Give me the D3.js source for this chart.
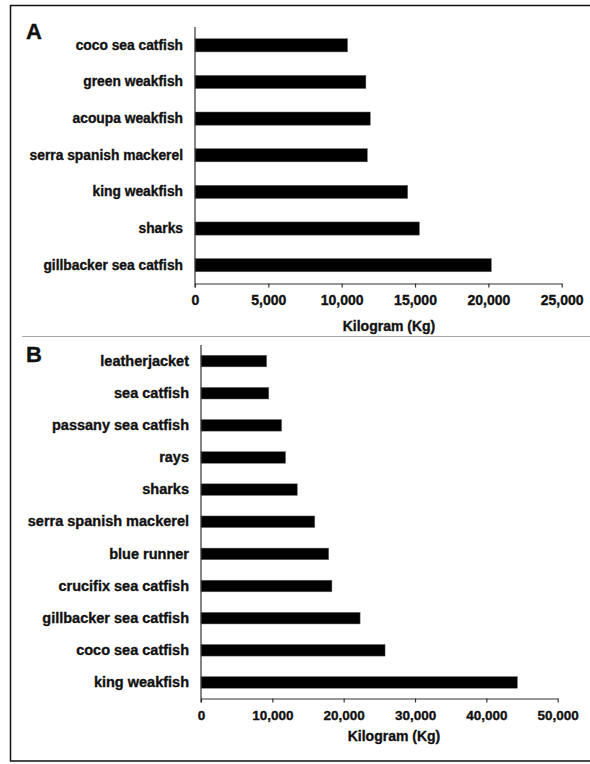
<!DOCTYPE html>
<html lang="en">
<head>
  <meta charset="UTF-8" />
  <title>Catch by species (Kg)</title>
  <script src="https://d3js.org/d3.v7.min.js"></script>
  <style>
    body { margin: 0; background: #fff; }
    svg { display: block; font-family: "Liberation Sans", Arial, sans-serif; font-weight: bold; }
    svg text { stroke: #111; stroke-width: 0.35; }
    .axis path, .axis line { fill: none; stroke: #333; stroke-width: 1.2; }
    .axis text { fill: #111; font-family: "Liberation Sans", Arial, sans-serif; font-weight: bold; }
  </style>
</head>
<body>
  <svg id="chart" width="590" height="764"></svg>

  <script>
  // panel A
  const speciesA = [
    "coco sea catfish",
    "green weakfish",
    "acoupa weakfish",
    "serra spanish mackerel",
    "king weakfish",
    "sharks",
    "gillbacker sea catfish"
  ];
  const kgA = [10400, 11650, 11950, 11750, 14500, 15300, 20200];
  const ticksA = [0, 5000, 10000, 15000, 20000, 25000];

  // panel B
  const speciesB = [
    "leatherjacket",
    "sea catfish",
    "passany sea catfish",
    "rays",
    "sharks",
    "serra spanish mackerel",
    "blue runner",
    "crucifix sea catfish",
    "gillbacker sea catfish",
    "coco sea catfish",
    "king weakfish"
  ];
  const kgB = [9200, 9500, 11300, 11850, 13500, 15950, 17900, 18350, 22300, 25800, 44350];
  const ticksB = [0, 10000, 20000, 30000, 40000, 50000];

  const svg = d3.select("#chart");
  const fmt = d3.format(",");

  // outer frame (right edge falls off the picture)
  svg.append("path")
    .attr("d", "M600,5.5 H10.5 V761 H600")
    .attr("fill", "none").attr("stroke", "#111").attr("stroke-width", 1.5);
  // divider between panels
  svg.append("line")
    .attr("x1", 22).attr("x2", 590).attr("y1", 336.5).attr("y2", 336.5)
    .attr("stroke", "#aaa").attr("stroke-width", 1.2);

  function drawPanel(o) {
    const g = svg.append("g");
    const x = d3.scaleLinear().domain([0, o.max]).range([o.left, o.right]);
    const y = d3.scaleBand().domain(o.cats).range([o.top, o.bottom])
      .paddingInner(0.64).paddingOuter(0.32);

    g.selectAll("rect.bar")
      .data(o.vals)
      .join("rect")
      .attr("class", "bar")
      .attr("x", x(0))
      .attr("y", (d, i) => y(o.cats[i]))
      .attr("width", d => x(d) - x(0))
      .attr("height", y.bandwidth())
      .attr("fill", "#000")
      .attr("stroke", "#666").attr("stroke-width", 0.5);

    const xa = g.append("g").attr("class", "axis")
      .attr("transform", `translate(0,${o.bottom})`)
      .call(d3.axisBottom(x).tickValues(o.ticks).tickFormat(fmt).tickSize(4).tickSizeOuter(0).tickPadding(8));
    xa.selectAll("text").style("font-size", o.tickFont + "px");

    const ya = g.append("g").attr("class", "axis")
      .attr("transform", `translate(${o.left},0)`)
      .call(d3.axisLeft(y).tickSize(0).tickSizeOuter(0).tickPadding(12));
    ya.select(".domain").attr("d", `M0,${o.top}V${o.bottom + 4}`);
    ya.selectAll("text").style("font-size", o.labelFont + "px");

    g.append("text")
      .attr("x", o.titleX).attr("y", o.titleY)
      .attr("text-anchor", "middle")
      .style("font-size", o.titleFont + "px")
      .attr("fill", "#111")
      .text("Kilogram (Kg)");

    g.append("text")
      .attr("x", 26).attr("y", o.letterY)
      .style("font-size", "22px")
      .attr("fill", "#111")
      .text(o.letter);
  }

  drawPanel({
    cats: speciesA, vals: kgA, ticks: ticksA, max: 25000,
    left: 195, right: 561.7, top: 27, bottom: 283.5,
    labelFont: 13.8, tickFont: 14, titleFont: 14, titleX: 389, titleY: 331,
    letter: "A", letterY: 39
  });

  drawPanel({
    cats: speciesB, vals: kgB, ticks: ticksB, max: 50000,
    left: 201, right: 557.7, top: 345, bottom: 698.5,
    labelFont: 14.5, tickFont: 13.5, titleFont: 14, titleX: 394, titleY: 741,
    letter: "B", letterY: 361.5
  });
  </script>
</body>
</html>
